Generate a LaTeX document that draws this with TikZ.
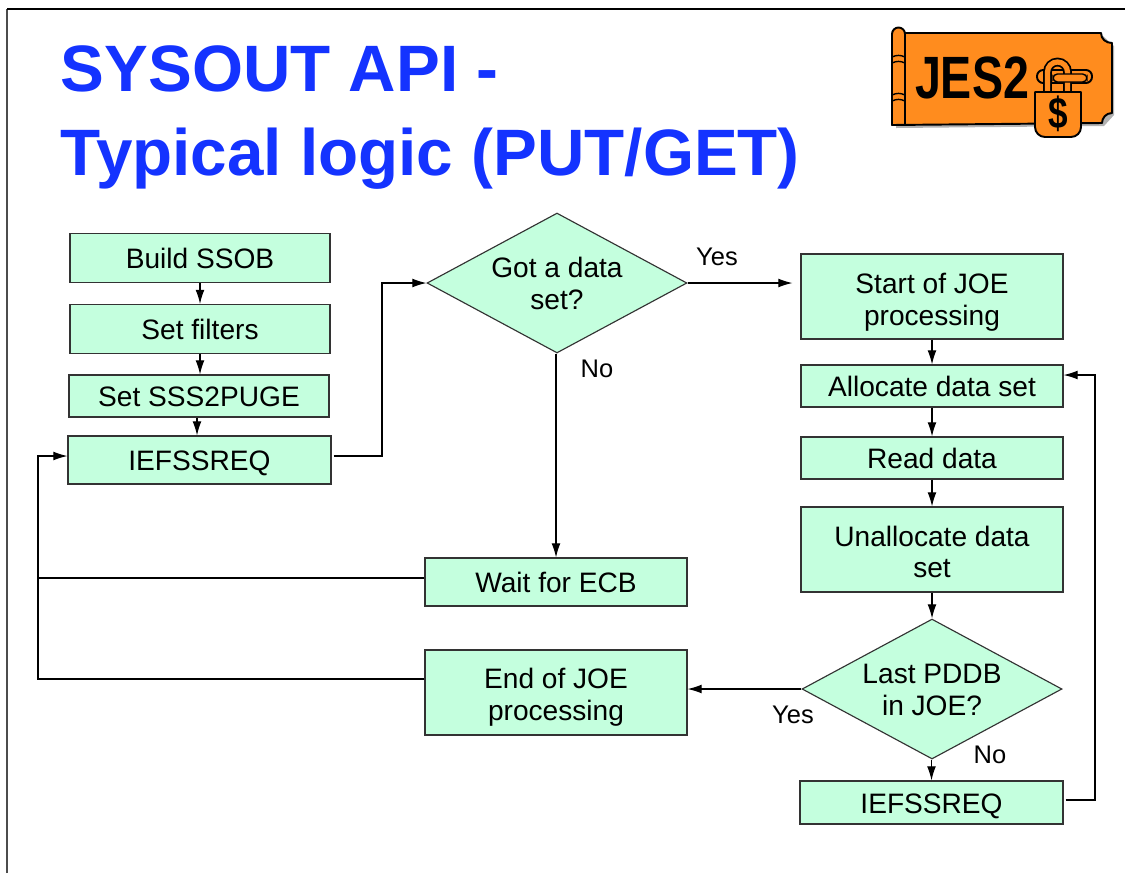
\documentclass[tikz,border=0pt]{standalone}
\usepackage{fontspec}
\setmainfont{Liberation Sans}
\usetikzlibrary{arrows.meta,calc,shapes.geometric}
\definecolor{boxgreen}{RGB}{196,255,222}
\definecolor{titleblue}{RGB}{20,51,255}
\definecolor{logoorange}{RGB}{255,140,30}
\tikzset{
  stepbox/.style={draw=black!80,fill=boxgreen,line width=.65pt,minimum width=5.2cm,align=center,inner sep=0pt,font=\fontsize{16}{18}\selectfont},
  oneline/.style={stepbox,text height=14pt,text depth=2pt},
  twoline/.style={stepbox,execute at begin node={\rule{0pt}{#1}}},
  choice/.style={stepbox,diamond,aspect=1.86,minimum width=5.2cm,minimum height=2.8cm,execute at begin node={\rule{0pt}{30.2pt}}},
  flow/.style={line width=.65pt,-{Latex[length=8pt,width=5pt]}},
  plain/.style={line width=.65pt},
  note/.style={inner sep=0pt,font=\fontsize{14.5}{16}\selectfont},
  headline/.style={anchor=base west,inner sep=0pt,text=titleblue,font=\fontsize{37.35}{40}\selectfont\bfseries},
  logoedge/.style={draw=black,line width=1.1pt,line join=round}
}
\begin{document}
\begin{tikzpicture}[x=0.02cm,y=-0.02cm]
\useasboundingbox (0,0) rectangle (1125,873);
\draw [line width=1pt,gray!60!black] (7,873)--(7,9);
\draw [line width=.8pt] (7,9)--(1125,9);

\node [headline] (line1) at (60.5,91) {SYSOUT API -};
\node [headline] (line2) at (60.5,175) {Typical logic (PUT/GET)};

% logo
\fill [black!30] (908,36)--(1103,36)--(1114,46)--(1114,115)--(1104,126)--(896,128)--cycle;
\draw [logoedge,fill=logoorange] (905,33)--(1101,33) .. controls (1101,39) and (1106,43) .. (1112,43)--(1112,113) .. controls (1106,113) and (1102,118) .. (1102,123)--(892,125)--(892,34) arc (180:360:6.5)--cycle;
\draw [logoedge] (905,33)--(905,124);
\draw [logoedge,line width=.8pt] (892,57) to [bend left=25] (905,57);
\draw [logoedge,line width=.8pt] (892,63) to [bend left=25] (905,63);
\draw [logoedge,line width=.8pt] (892,95) to [bend left=25] (905,95);
\draw [logoedge,line width=.8pt] (892,101) to [bend left=25] (905,101);
\node [inner sep=0pt] (logotext) at (972,78) {\fontsize{34}{34}\selectfont\bfseries\scalebox{0.78}[1]{JES2}};
\draw [logoedge,fill=logoorange,rounded corners=3.5pt] (1037,70) rectangle (1092,83);
\draw [line width=5pt,black] (1047.5,92)--(1047.5,72) arc (180:360:10)--(1067.5,92);
\draw [line width=3pt,logoorange] (1047.5,92)--(1047.5,72) arc (180:360:10)--(1067.5,92);
\draw [line width=.8pt,fill=logoorange,rounded corners=2.5pt] (1053,74) rectangle (1087,82);
\draw [logoedge,fill=logoorange] (1035,92)--(1081,92)--(1081,127) arc (0:90:10)--(1045,137) arc (90:180:10)--cycle;
\node [inner sep=0pt] (logocoin) at (1058,114) {\fontsize{25}{25}\selectfont\bfseries\scalebox{0.8}[1]{\$}};

% left column
\node [oneline,minimum height=.98cm] (ssob) at (200,258) {Build SSOB};
\node [oneline,minimum height=.98cm] (filters) at (200,329) {Set filters};
\node [oneline,minimum height=.84cm] (puge) at (199,396) {Set SSS2PUGE};
\node [oneline,minimum height=.96cm,minimum width=5.26cm] (req) at (199.5,460) {IEFSSREQ};

% middle column
\node [choice] (got) at (557,283) {Got a data\\set?};
\node [oneline,minimum height=.96cm,minimum width=5.24cm] (wait) at (556,582) {Wait for ECB};
\node [twoline=35.2pt,minimum height=1.7cm,minimum width=5.24cm] (endjoe) at (556,692.5) {End of JOE\\processing};

% right column
\node [twoline=36.4pt,minimum height=1.7cm,minimum width=5.24cm] (startjoe) at (932,296.5) {Start of JOE\\processing};
\node [oneline,minimum height=.84cm,minimum width=5.24cm] (alloc) at (932,386) {Allocate data set};
\node [oneline,minimum height=.84cm,minimum width=5.24cm] (readd) at (932,458) {Read data};
\node [twoline=32.4pt,minimum height=1.7cm,minimum width=5.24cm] (unalloc) at (932,549.5) {Unallocate data\\set};
\node [choice] (last) at (932,689) {Last PDDB\\in JOE?};
\node [oneline,minimum height=.86cm,minimum width=5.26cm] (reqtwo) at (931.5,802.5) {IEFSSREQ};

\node [note] (gotyes) at (717,257) {Yes};
\node [note] (gotno) at (597,369) {No};
\node [note] (lastyes) at (793,715) {Yes};
\node [note] (lastno) at (990,755) {No};

\coordinate (pugex) at (197,0);
\coordinate (upleft) at (382,456);
\coordinate (upgot) at (382,283);
\coordinate (busleft) at (38,679);
\coordinate (busup) at (38,456);
\coordinate (busmid) at (38,578);
\coordinate (backlow) at (1095,800);
\coordinate (backup) at (1095,375);

\draw [flow] (ssob)--(filters);
\draw [flow] (filters)--(puge.north -| filters);
\draw [flow] (puge.south -| pugex)--(req.north -| pugex);
\draw [flow] ($(req.east |- upleft)+(2,0)$)--(upleft)--(upgot)--(got.west);
\draw [flow] (got.east)--($(startjoe.west |- got.east)+(-8,0)$);
\draw [flow] (got.south -| wait)--(wait.north);
\draw [flow] (startjoe)--(alloc);
\draw [flow] (alloc)--(readd);
\draw [flow] (readd)--(unalloc);
\draw [flow] (unalloc)--(last);
\draw [flow] (last.west)--(endjoe.east |- last.west);
\draw [flow] (last.south -| reqtwo)--(reqtwo.north);
\draw [flow] ($(reqtwo.east |- backlow)+(2,0)$)--(backlow)--(backup)--(alloc.east |- backup);
\draw [plain] (endjoe.west |- busleft)--(busleft)--(busmid);
\draw [plain] (wait.west |- busmid)--(busmid);
\draw [flow] (busmid)--(busup)--(req.west |- busup);
\end{tikzpicture}
\end{document}
